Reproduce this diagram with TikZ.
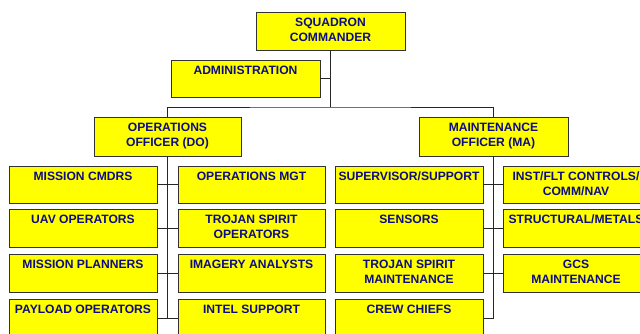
\documentclass[tikz,border=0pt]{standalone}
\usepackage{fontspec}
\setmainfont{Liberation Sans}
\definecolor{txtblue}{RGB}{12,12,132}
\definecolor{boxyel}{RGB}{255,255,0}
\definecolor{edgegray}{RGB}{50,50,50}
\newcommand\obox[7]{%
  \node[orgbox, minimum width=#4pt-#2pt, minimum height=#5pt-#3pt, anchor=north west] (#1) at (#2,#3) {};
  \node[orgtxt] (#1t) at ([yshift=-#6pt]#1.north) {#7};}
\begin{document}
\begin{tikzpicture}[x=1pt,y=-1pt,
  orgbox/.style={draw=edgegray, fill=boxyel, line width=0.9pt, inner sep=0pt, outer sep=0pt},
  orgtxt/.style={anchor=north, inner sep=0pt, align=center, text=txtblue,
    font=\fontsize{12.1}{15}\selectfont\bfseries},
  link/.style={draw=black!85, line width=0.8pt}]
\useasboundingbox (0,0) rectangle (640,333);
\clip (0,0) rectangle (640,333);
\fill[white] (0,0) rectangle (640,333);
% top
\obox{cmd}{256}{12}{405}{50}{5.5}{SQUADRON\\COMMANDER}
\obox{adm}{171}{60}{320}{97}{6}{ADMINISTRATION}
\obox{ops}{94}{117}{241}{156}{6}{OPERATIONS\\OFFICER (DO)}
\obox{mnt}{419}{117}{568}{156}{6}{MAINTENANCE\\OFFICER (MA)}
% ops columns
\obox{a1}{9}{166}{157}{203}{6}{MISSION CMDRS}
\obox{a2}{9}{209}{157}{247}{6}{UAV OPERATORS}
\obox{a3}{9}{254}{157}{292}{6}{MISSION PLANNERS}
\obox{a4}{9}{299}{157}{337}{6}{PAYLOAD OPERATORS}
\obox{b1}{178}{166}{325}{203}{6}{OPERATIONS MGT}
\obox{b2}{178}{209}{325}{247}{6}{TROJAN SPIRIT\\OPERATORS}
\obox{b3}{178}{254}{325}{292}{6}{IMAGERY ANALYSTS}
\obox{b4}{178}{299}{325}{337}{6}{INTEL SUPPORT}
% maintenance columns
\obox{c1}{335}{166}{483}{203}{6}{SUPERVISOR/SUPPORT}
\obox{c2}{335}{209}{483}{247}{6}{SENSORS}
\obox{c3}{335}{254}{483}{292}{6}{TROJAN SPIRIT\\MAINTENANCE}
\obox{c4}{335}{299}{483}{337}{6}{CREW CHIEFS}
\obox{d1}{503}{166}{649}{203}{6}{INST/FLT CONTROLS/\\COMM/NAV}
\obox{d2}{503}{209}{649}{247}{6}{STRUCTURAL/METALS}
\obox{d3}{503}{254}{649}{292}{6}{GCS\\MAINTENANCE}
% connectors
\coordinate (bus) at (cmd.south |- 0,107);
\draw[link] (cmd.south) -- (bus);
\draw[link] (adm.east) -- (adm.east -| cmd.south);
\draw[link] (ops.north) |- (bus) -| (mnt.north);
\draw[link] (ops.south) -- (ops.south |- a4.east);
\draw[link] (mnt.south) -- (mnt.south |- c4.east);
\draw[link] (a1.east) -- (b1.west);
\draw[link] (a2.east) -- (b2.west);
\draw[link] (a3.east) -- (b3.west);
\draw[link] (a4.east) -- (b4.west);
\draw[link] (c1.east) -- (d1.west);
\draw[link] (c2.east) -- (d2.west);
\draw[link] (c3.east) -- (d3.west);
\draw[link] (c4.east) -- (mnt.south |- c4.east);
\end{tikzpicture}
\end{document}
